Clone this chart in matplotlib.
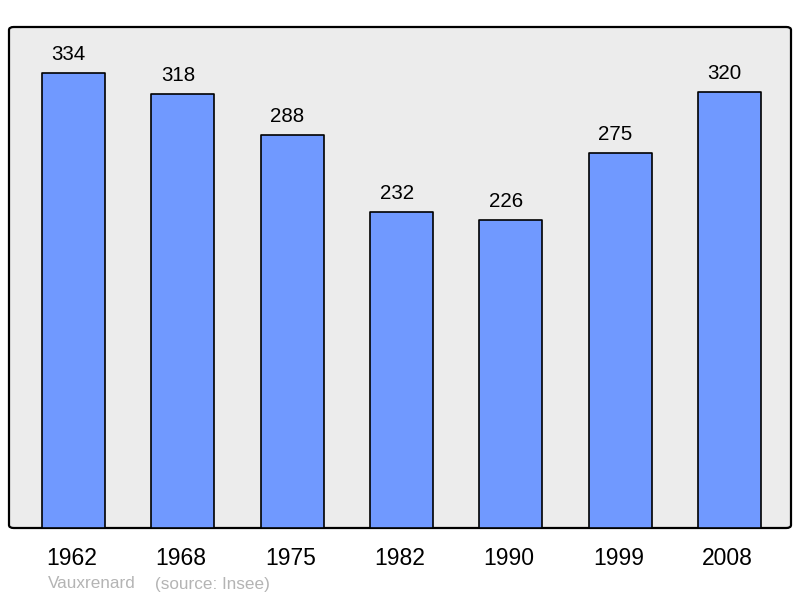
import matplotlib.pyplot as plt
from matplotlib.patches import FancyBboxPatch

years = ["1962", "1968", "1975", "1982", "1990", "1999", "2008"]
population = [334, 318, 288, 232, 226, 275, 320]
commune = "Vauxrenard"
source = "(source: Insee)"

plt.rcParams['font.family'] = ['Liberation Sans', 'DejaVu Sans']

fig = plt.figure(figsize=(8, 5.98), dpi=100)
ax = fig.add_axes([9 / 800, 70 / 598, 782 / 800, 501 / 598])
ax.set_xlim(-0.59, len(years) - 1 + 0.563)
ax.set_ylim(0, max(population) * 1.1)
ax.axis('off')

# rounded grey panel
panel = FancyBboxPatch((0, 0), 1, 1, boxstyle="round,pad=0,rounding_size=0.006",
                       transform=ax.transAxes, facecolor="#ececec",
                       edgecolor="black", linewidth=1.6, zorder=0, clip_on=False)
ax.add_patch(panel)

x = list(range(len(years)))
bars = ax.bar(x, population, width=0.576, color="#7099ff", edgecolor="black",
              linewidth=1.2, zorder=2)
for b in bars:
    b.set_joinstyle('round')

# value labels sit a little left of bar centre in the original
for xi, v in zip(x, population):
    ax.annotate(str(v), (xi, v), xytext=(-3.5, 6.5), textcoords="offset points",
                ha="center", va="bottom", fontsize=14.8, color="black")

for xi, y in zip(x, years):
    ax.annotate(y, (xi, 0), xytext=(-1.3, -22), textcoords="offset points",
                ha="center", va="center", fontsize=16.5, color="black",
                annotation_clip=False)

fig.text(48 / 800, 1 - 584 / 598, commune, ha="left", va="center",
         fontsize=12.3, color="#b4b4b4")
fig.text(155 / 800, 1 - 584 / 598, source, ha="left", va="center",
         fontsize=12.3, color="#b4b4b4")

fig.savefig("out.png", dpi=100)
